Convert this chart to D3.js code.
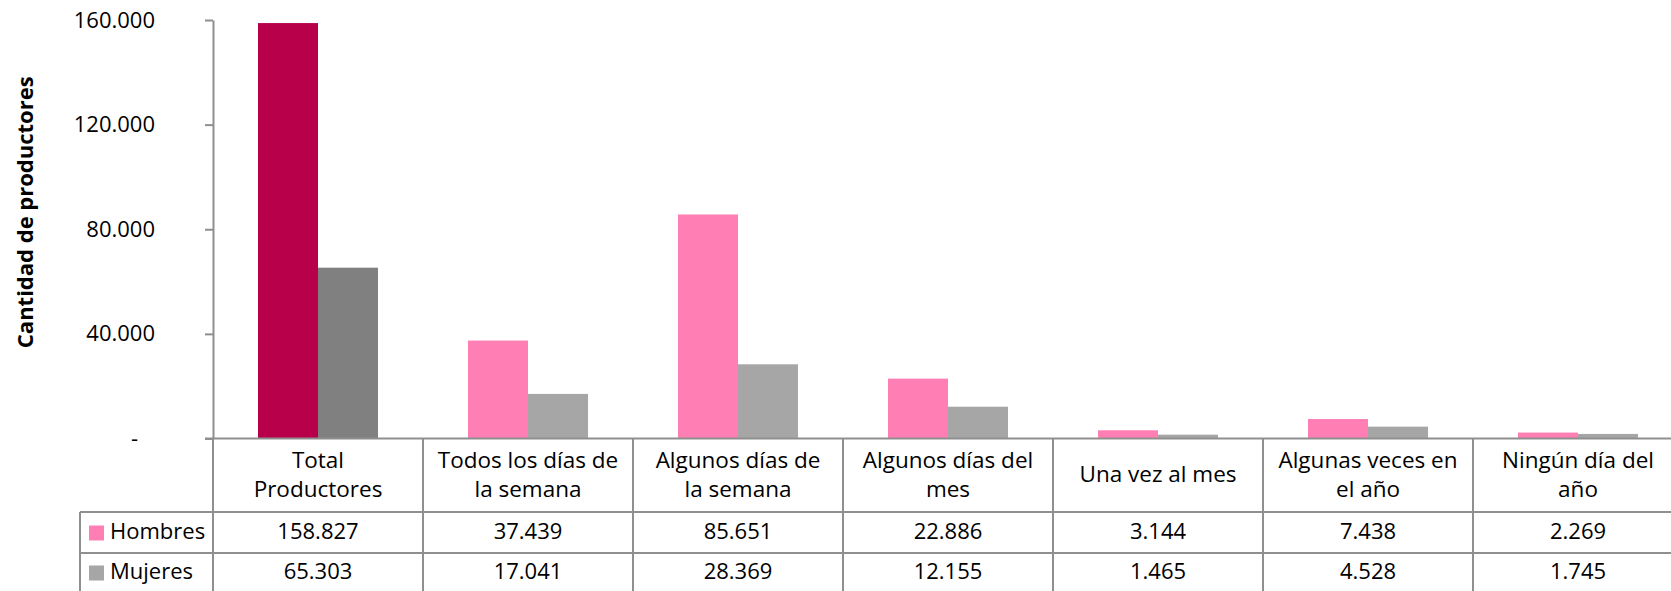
<!DOCTYPE html>
<html>
<head>
<meta charset="utf-8">
<script src="https://cdn.jsdelivr.net/npm/d3@7"></script>
<style>
  html, body { margin: 0; padding: 0; background: #fff; }
  svg { display: block; }
  text { font-family: "Open Sans", "Noto Sans", sans-serif; fill: #000; }
</style>
</head>
<body>
<svg id="chart" width="1671" height="591"></svg>
<script>
// ---- data ----
const categories = [
  ["Total", "Productores"],
  ["Todos los días de", "la semana"],
  ["Algunos días de", "la semana"],
  ["Algunos días del", "mes"],
  ["Una vez al mes"],
  ["Algunas veces en", "el año"],
  ["Ningún día del", "año"]
];
const seriesNames = ["Hombres", "Mujeres"];
const hombres = [158827, 37439, 85651, 22886, 3144, 7438, 2269];
const mujeres = [65303, 17041, 28369, 12155, 1465, 4528, 1745];
const yTicks = [0, 40000, 80000, 120000, 160000];
const yTitle = "Cantidad de productores";

// ---- layout ----
const W = 1671, H = 591;
const axisX = 213, colW = 210;
const yTop = 20, yBase = 438.5;
const row1 = 512, row2 = 553, rowH = 41;
const legendLeft = 80;
const lineColor = "#8f8f8f";
const colorsH = ["#B8004A", "#FF7EB3"];
const colorsM = ["#808080", "#A6A6A6"];
const fs = 22;

const svg = d3.select("#chart");
const locale = d3.formatLocale({decimal: ",", thousands: ".", grouping: [3], currency: ["", ""]});
const fmt = locale.format(",d");

const x = d3.scaleBand().domain(d3.range(categories.length))
  .range([axisX, axisX + colW * categories.length]).padding(0);
const xs = d3.scaleBand().domain(seriesNames).range([45, 165]).padding(0);
const y = d3.scaleLinear().domain([0, 160000]).range([yBase, yTop]);

const data = categories.map((c, i) => ({i, vals: [hombres[i], mujeres[i]]}));

// bars
const g = svg.append("g");
data.forEach(d => {
  seriesNames.forEach((s, k) => {
    const v = d.vals[k];
    const col = k === 0 ? (d.i === 0 ? colorsH[0] : colorsH[1]) : (d.i === 0 ? colorsM[0] : colorsM[1]);
    g.append("rect")
      .attr("x", x(d.i) + xs(s))
      .attr("y", y(v))
      .attr("width", xs.bandwidth())
      .attr("height", yBase - y(v))
      .attr("fill", col);
  });
});

// y axis
const yAxis = d3.axisLeft(y).tickValues(yTicks).tickSize(8).tickSizeOuter(0).tickPadding(50)
  .tickFormat(v => v === 0 ? "-" : fmt(v));
const ga = svg.append("g").attr("transform", `translate(${axisX},0)`).call(yAxis);
ga.select(".domain").attr("stroke", lineColor).attr("stroke-width", 2);
ga.selectAll(".tick line").attr("stroke", lineColor).attr("stroke-width", 2);
ga.selectAll(".tick text").attr("font-size", fs).attr("fill", "#000")
  .attr("font-family", '"Open Sans", sans-serif')
  .attr("dx", v => v === 0 ? -17 : 0);

// y title
svg.append("text")
  .attr("transform", `translate(33,${(yTop + yBase) / 2 - 17}) rotate(-90)`)
  .attr("text-anchor", "middle")
  .attr("font-size", 22).attr("font-weight", "bold")
  .text(yTitle);

// table lines
const t = svg.append("g").attr("stroke", lineColor).attr("stroke-width", 2);
t.append("line").attr("x1", axisX - 8).attr("x2", W).attr("y1", yBase).attr("y2", yBase);
t.append("line").attr("x1", legendLeft).attr("x2", W).attr("y1", row1).attr("y2", row1);
t.append("line").attr("x1", legendLeft).attr("x2", W).attr("y1", row2).attr("y2", row2);
t.append("line").attr("x1", legendLeft).attr("x2", legendLeft).attr("y1", row1).attr("y2", H);
d3.range(categories.length + 1).forEach(i => {
  const xx = axisX + i * colW;
  t.append("line").attr("x1", xx).attr("x2", xx).attr("y1", yBase).attr("y2", H);
});

// category labels
data.forEach(d => {
  const lines = categories[d.i];
  const cx = x(d.i) + x.bandwidth() / 2;
  const cy = (yBase + row1) / 2 + 1;
  const lh = 29;
  lines.forEach((ln, j) => {
    svg.append("text")
      .attr("x", cx)
      .attr("y", cy + (j - (lines.length - 1) / 2) * lh)
      .attr("text-anchor", "middle").attr("dominant-baseline", "middle")
      .attr("font-size", 22.5)
      .text(ln);
  });
});

// legend rows + values
const rowsY = [row1 + rowH / 2 + 1, row2 + rowH / 2];
const legendColors = [colorsH[1], colorsM[1]];
seriesNames.forEach((s, k) => {
  svg.append("rect").attr("x", 89).attr("y", rowsY[k] - 8).attr("width", 15).attr("height", 15)
    .attr("fill", legendColors[k]);
  svg.append("text").attr("x", 110).attr("y", rowsY[k]).attr("dominant-baseline", "middle")
    .attr("font-size", fs).text(s);
  const vals = k === 0 ? hombres : mujeres;
  vals.forEach((v, i) => {
    svg.append("text")
      .attr("x", x(i) + x.bandwidth() / 2)
      .attr("y", rowsY[k])
      .attr("text-anchor", "middle").attr("dominant-baseline", "middle")
      .attr("font-size", fs)
      .text(fmt(v));
  });
});
</script>
</body>
</html>
